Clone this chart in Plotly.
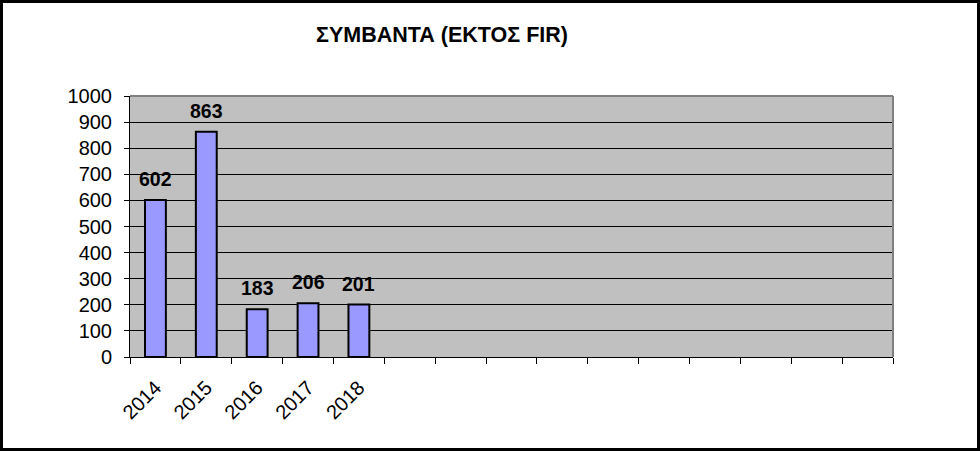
import plotly.graph_objects as go

# chart data
years = ['2014', '2015', '2016', '2017', '2018']
incidents = [602, 863, 183, 206, 201]
n_slots = 15  # the sheet reserves 15 category slots, only 5 filled

title = 'ΣΥΜΒΑΝΤΑ (ΕΚΤΟΣ FIR)'

W, H = 980, 451
L, R, T, B = 130, 87, 96, 94
pw, ph = W - L - R, H - T - B

FONT = 'Liberation Sans, Arial, sans-serif'

xs = list(range(len(years)))

fig = go.Figure()
fig.add_trace(go.Bar(
    x=xs, y=incidents, width=0.41,
    marker=dict(color='#9999FF', line=dict(color='black', width=2)),
    hoverinfo='x+y',
))

# data labels over bars
for x, v in zip(xs, incidents):
    fig.add_annotation(x=x, y=v, text=str(v), showarrow=False,
                       yanchor='bottom', yshift=8,
                       font=dict(family=FONT, size=19.5, color='black', weight='bold'))


def px_x(p):
    return (p - L) / pw


def px_y(p):
    return (H - B - p) / ph


shapes = [
    # gray border on top and right of plot area
    dict(type='line', xref='paper', yref='paper', x0=0, x1=1, y0=1, y1=1,
         line=dict(color='#808080', width=2)),
    dict(type='line', xref='paper', yref='paper', x0=1, x1=1, y0=0, y1=1,
         line=dict(color='#808080', width=2)),
    # black frame around the whole chart
    dict(type='rect', xref='paper', yref='paper',
         x0=px_x(1.5), x1=px_x(W - 1.5), y0=px_y(H - 1.5), y1=px_y(1.5),
         line=dict(color='black', width=3)),
]

fig.update_layout(
    width=W, height=H,
    margin=dict(l=L, r=R, t=T, b=B),
    paper_bgcolor='white', plot_bgcolor='#C0C0C0',
    showlegend=False,
    font=dict(family=FONT, size=20, color='black'),
    title=dict(text='<b>' + title + '</b>', x=px_x(442), xref='paper', xanchor='center',
               y=1 - 34 / H, yanchor='middle',
               font=dict(family=FONT, size=21.5, color='black')),
    shapes=shapes,
    xaxis=dict(
        range=[-0.5, n_slots - 0.5], tickmode='array', tickvals=xs, ticktext=years,
        tickangle=-45, ticks='', showgrid=False, zeroline=False,
        showline=True, linecolor='black', linewidth=1,
        ticklabelstandoff=10,
        minor=dict(tickmode='array', tickvals=[k - 0.5 for k in range(n_slots + 1)],
                   ticks='outside', ticklen=6, tickcolor='black', tickwidth=1,
                   showgrid=False),
        fixedrange=True,
    ),
    yaxis=dict(
        range=[0, 1000], dtick=100, tick0=0,
        showgrid=True, gridcolor='black', gridwidth=1,
        zeroline=False, showline=True, linecolor='black', linewidth=1,
        ticks='outside', ticklen=5, tickcolor='black',
        ticklabelstandoff=8,
        fixedrange=True,
    ),
)

# the page's default 8px body margin would shift the chart inside the window
fig.write_html('out.html', config={'displayModeBar': False},
               post_script="document.body.style.margin='0px';")
